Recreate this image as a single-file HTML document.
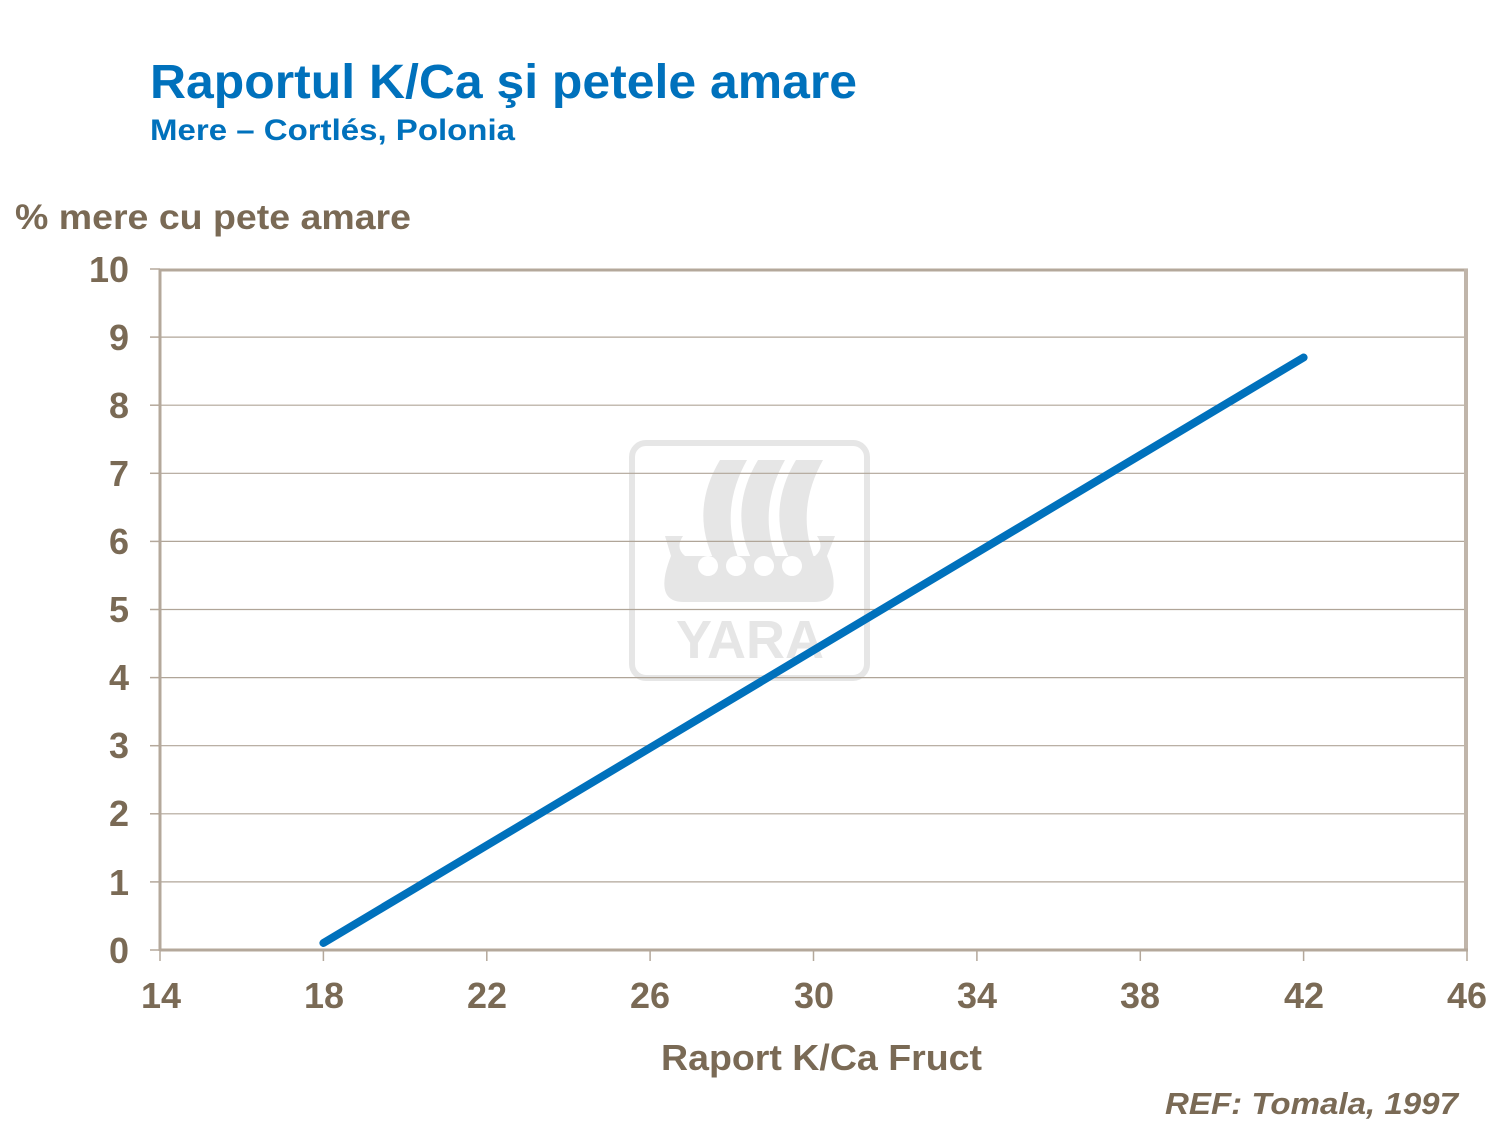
<!DOCTYPE html>
<html><head><meta charset="utf-8"><style>
html,body{margin:0;padding:0;background:#fff;}
svg{display:block;}
</style></head><body>
<svg width="1499" height="1123" viewBox="0 0 1499 1123" xmlns="http://www.w3.org/2000/svg" font-family="Liberation Sans, Arial, sans-serif">
<rect width="1499" height="1123" fill="#fff"/>
<text x="150" y="98" font-size="48" font-weight="bold" fill="#0071bc" textLength="707" lengthAdjust="spacingAndGlyphs">Raportul K/Ca şi petele amare</text>
<text x="150" y="140" font-size="30" font-weight="bold" fill="#0071bc" textLength="365" lengthAdjust="spacingAndGlyphs">Mere – Cortlés, Polonia</text>
<text x="15" y="229" font-size="35" font-weight="bold" fill="#7a6a55" textLength="396" lengthAdjust="spacingAndGlyphs">% mere cu pete amare</text>
<!-- watermark -->
<g fill="#e6e6e6">
<rect x="632" y="443" width="235" height="235" rx="14" fill="none" stroke="#e6e6e6" stroke-width="6"/>
<path d="M720 460 h27 q-28 50 -8 100 h-25 q-24 -50 6 -100z"/>
<path d="M758 460 h27 q-28 50 -8 100 h-25 q-24 -50 6 -100z"/>
<path d="M796 460 h27 q-28 50 -8 100 h-25 q-24 -50 6 -100z"/>
<path d="M665 536 h18 q-8 12 2 20 h130 q10 -8 2 -20 h18 l-8 20 q10 25 5 37 q-4 9 -18 9 h-130 q-14 0 -18 -9 q-5 -12 5 -37z"/>
<text x="750" y="658" font-size="54" font-weight="bold" text-anchor="middle" fill="#e6e6e6">YARA</text>
</g>
<g fill="#fff"><circle cx="708" cy="566" r="10"/><circle cx="736" cy="566" r="10"/><circle cx="764" cy="566" r="10"/><circle cx="792" cy="566" r="10"/></g>
<!-- gridlines -->
<g stroke="#b0a598" stroke-width="1.2">
<line x1="160" x2="1466" y1="337.1" y2="337.1"/><line x1="160" x2="1466" y1="405.2" y2="405.2"/>
<line x1="160" x2="1466" y1="473.3" y2="473.3"/><line x1="160" x2="1466" y1="541.4" y2="541.4"/>
<line x1="160" x2="1466" y1="609.5" y2="609.5"/><line x1="160" x2="1466" y1="677.6" y2="677.6"/>
<line x1="160" x2="1466" y1="745.7" y2="745.7"/><line x1="160" x2="1466" y1="813.8" y2="813.8"/>
<line x1="160" x2="1466" y1="881.9" y2="881.9"/>
</g>
<!-- frame -->
<line x1="160" x2="1468" y1="270" y2="270" stroke="#b4a89b" stroke-width="3"/>
<line x1="1466" x2="1466" y1="269" y2="951" stroke="#c0b5aa" stroke-width="4"/>
<line x1="160" x2="160" y1="269" y2="951" stroke="#b4a89b" stroke-width="3"/>
<line x1="160" x2="1468" y1="950" y2="950" stroke="#b4a89b" stroke-width="3"/>
<!-- ticks -->
<g stroke="#b4a89b" stroke-width="1.5">
<line x1="150" x2="160" y1="269" y2="269"/><line x1="150" x2="160" y1="337.1" y2="337.1"/><line x1="150" x2="160" y1="405.2" y2="405.2"/><line x1="150" x2="160" y1="473.3" y2="473.3"/><line x1="150" x2="160" y1="541.4" y2="541.4"/><line x1="150" x2="160" y1="609.5" y2="609.5"/><line x1="150" x2="160" y1="677.6" y2="677.6"/><line x1="150" x2="160" y1="745.7" y2="745.7"/><line x1="150" x2="160" y1="813.8" y2="813.8"/><line x1="150" x2="160" y1="881.9" y2="881.9"/><line x1="150" x2="160" y1="950" y2="950"/>
<line x1="160" x2="160" y1="950" y2="961"/><line x1="323.4" x2="323.4" y1="950" y2="961"/><line x1="486.8" x2="486.8" y1="950" y2="961"/><line x1="650.1" x2="650.1" y1="950" y2="961"/><line x1="813.5" x2="813.5" y1="950" y2="961"/><line x1="976.9" x2="976.9" y1="950" y2="961"/><line x1="1140.3" x2="1140.3" y1="950" y2="961"/><line x1="1303.6" x2="1303.6" y1="950" y2="961"/><line x1="1467" x2="1467" y1="950" y2="961"/>
</g>
<g font-size="36" font-weight="bold" fill="#7a6a55" text-anchor="end">
<text x="129" y="282">10</text><text x="129" y="350">9</text><text x="129" y="418">8</text><text x="129" y="486">7</text><text x="129" y="554">6</text><text x="129" y="622">5</text><text x="129" y="690">4</text><text x="129" y="758">3</text><text x="129" y="826">2</text><text x="129" y="895">1</text><text x="129" y="963">0</text>
</g>
<g font-size="36" font-weight="bold" fill="#7a6a55" text-anchor="middle">
<text x="161" y="1008">14</text><text x="324" y="1008">18</text><text x="487" y="1008">22</text><text x="650" y="1008">26</text><text x="814" y="1008">30</text><text x="977" y="1008">34</text><text x="1140" y="1008">38</text><text x="1304" y="1008">42</text><text x="1467" y="1008">46</text>
</g>
<line x1="323.4" y1="943" x2="1303.6" y2="357.5" stroke="#0071bc" stroke-width="8" stroke-linecap="round"/>
<text x="661" y="1070" font-size="36" font-weight="bold" fill="#7a6a55" textLength="321" lengthAdjust="spacingAndGlyphs">Raport K/Ca Fruct</text>
<text x="1165" y="1114" font-size="31" font-weight="bold" font-style="italic" fill="#7a6a55" textLength="293" lengthAdjust="spacingAndGlyphs">REF: Tomala, 1997</text>
</svg>
</body></html>
